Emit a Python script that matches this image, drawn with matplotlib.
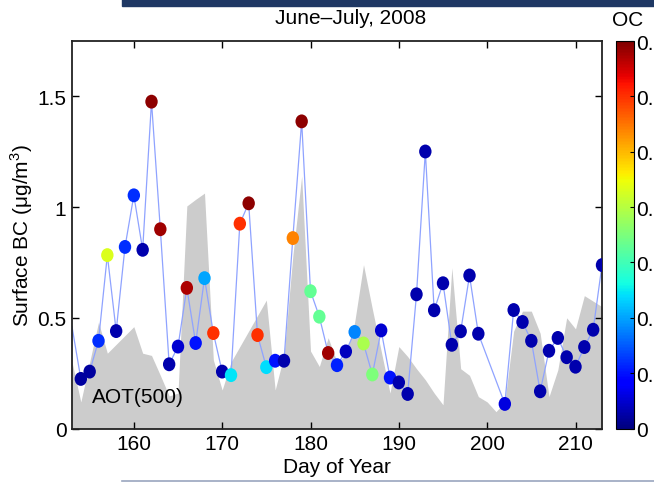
import matplotlib.pyplot as plt
import numpy as np
from matplotlib.path import Path
from matplotlib.transforms import Affine2D
from matplotlib.patches import Rectangle
from matplotlib.lines import Line2D

plt.rcParams['font.family'] = ['Liberation Sans Narrow', 'Liberation Sans', 'DejaVu Sans']
plt.rcParams['font.size'] = 15

# surface BC (ug/m3) with OC colour, day of year
days = [153, 154, 155, 156, 157, 158, 159, 160, 161, 162, 163, 164, 165, 166, 167,
        168, 169, 170, 171, 172, 173, 174, 175, 176, 177, 178, 179, 180, 181, 182,
        183, 184, 185, 186, 187, 188, 189, 190, 191, 192, 193, 194, 195, 196, 197,
        198, 199, 202, 203, 204, 205, 206, 207, 208, 209, 210, 211, 212, 213]
bc = [0.46, 0.224, 0.257, 0.396, 0.783, 0.44, 0.82, 1.053, 0.807, 1.476, 0.90, 0.29, 0.37, 0.635, 0.386,
      0.679, 0.431, 0.257, 0.241, 0.925, 1.017, 0.422, 0.277, 0.306, 0.306, 0.86, 1.387, 0.62, 0.505, 0.341,
      0.286, 0.348, 0.436, 0.384, 0.244, 0.443, 0.23, 0.208, 0.156, 0.606, 1.251, 0.534, 0.656, 0.378, 0.439,
      0.691, 0.428, 0.111, 0.535, 0.481, 0.396, 0.168, 0.351, 0.409, 0.322, 0.279, 0.368, 0.446, 0.738]
oc = [np.nan, 0.02, 0.02, 0.12, 0.43, 0.03, 0.12, 0.12, 0.03, 0.69, 0.68, 0.03, 0.05, 0.67, 0.10,
      0.20, 0.60, 0.03, 0.245, 0.60, 0.69, 0.60, 0.24, 0.10, 0.03, 0.54, 0.69, 0.33, 0.33, 0.68,
      0.11, 0.04, 0.18, 0.39, 0.35, 0.05, 0.10, 0.03, 0.03, 0.03, 0.03, 0.03, 0.03, 0.03, 0.03,
      0.03, 0.03, 0.06, 0.03, 0.03, 0.03, 0.03, 0.03, 0.03, 0.03, 0.03, 0.03, 0.03, 0.03]

# AOT(500) shading
aot_days = list(range(153, 214))
aot = [0.30, 0.12, 0.30, 0.48, 0.34, 0.38, 0.42, 0.46, 0.34, 0.33, 0.24, 0.147, 0.16, 1.005, 1.035,
       1.063, 0.31, 0.174, 0.30, 0.37, 0.44, 0.51, 0.58, 0.174, 0.33, 0.78, 1.14, 0.35, 0.28, 0.41,
       0.30, 0.33, 0.48, 0.74, 0.54, 0.35, 0.16, 0.37, 0.325, 0.27, 0.22, 0.16, 0.107, 0.726, 0.27,
       0.24, 0.144, 0.12, 0.076, 0.12, 0.44, 0.53, 0.53, 0.43, 0.144, 0.265, 0.50, 0.45, 0.60, 0.575, 0.55]

W, H = 654, 485
fig = plt.figure(figsize=(W / 100, H / 100), dpi=100)

# slide decoration
fig.patches.append(Rectangle((122 / W, 1 - 7 / H), 1, 7 / H, transform=fig.transFigure,
                             color='#1f3864', zorder=0))
fig.lines.append(Line2D([122 / W, 1], [1 - 482 / H] * 2, transform=fig.transFigure,
                        color='#9aa6bf', lw=1.2))

ax = fig.add_axes([72 / W, 1 - 429.5 / H, 530 / W, 387.5 / H])
ax.fill_between(aot_days, aot, 0, color='#cccccc', lw=0, zorder=1)
ax.plot(days, bc, color='#8fa3ff', lw=0.9, zorder=2)

ell = Path.unit_circle().transformed(Affine2D().scale(1, 1.12))
sc = ax.scatter(days, bc, c=oc, cmap='jet', vmin=0, vmax=0.7, s=100, marker=ell,
                edgecolors='none', zorder=3)

ax.set_xlim(153, 213)
ax.set_ylim(0, 1.75)
ax.set_xticks([160, 170, 180, 190, 200, 210])
ax.set_yticks([0, 0.5, 1, 1.5])
ax.set_yticklabels(['0', '0.5', '1', '1.5'])
ax.tick_params(direction='in', top=True, right=True, length=5, width=1, pad=4)
for s in ax.spines.values():
    s.set_linewidth(1.3)
    s.set_color('#222222')
ax.set_xlabel('Day of Year', labelpad=3)
ax.set_ylabel('Surface BC ($\\mathregular{\\mu}$g/m$^{\\mathregular{3}}$)', labelpad=2)
ax.text(0.038, 0.083, 'AOT(500)', transform=ax.transAxes, ha='left', va='center')

fig.text(351 / W, 1 - 19 / H, 'June\u2013July, 2008', ha='center', va='center')

cax = fig.add_axes([616 / W, 1 - 429.5 / H, 17.5 / W, 387.5 / H])
cb = fig.colorbar(sc, cax=cax)
cb.set_ticks([0, 0.1, 0.2, 0.3, 0.4, 0.5, 0.6, 0.7])
cb.set_ticklabels(['0', '0.1', '0.2', '0.3', '0.4', '0.5', '0.6', '0.7'])
cax.tick_params(direction='in', length=3, pad=2)
cb.outline.set_linewidth(0.8)
fig.text(628 / W, 1 - 21 / H, 'OC', ha='center', va='center')

fig.savefig('out.png', dpi=100)
